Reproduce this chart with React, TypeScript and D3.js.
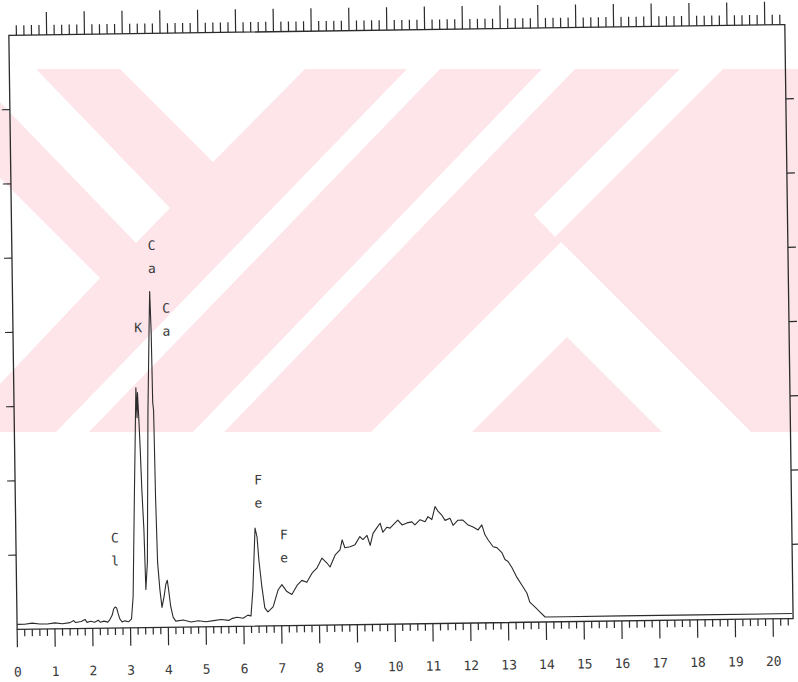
import { useRef, useEffect } from "react";
import * as d3 from "d3";

const WIDTH = 798;
const HEIGHT = 682;

/** EDS spectrum: energy (keV) and counts */
const energyKeV = [
  0.0, 0.2, 0.4, 0.6, 0.8, 1.0, 1.2, 1.4, 1.5, 1.55, 1.7, 1.8, 1.85, 1.95, 2.05,
  2.15, 2.2, 2.3, 2.4, 2.45, 2.52, 2.56, 2.6, 2.64, 2.68, 2.72, 2.78, 2.85, 2.95,
  3.03, 3.08, 3.15, 3.19, 3.23, 3.25, 3.27, 3.3, 3.32, 3.35, 3.39, 3.42, 3.47,
  3.54, 3.6, 3.63, 3.655, 3.67, 3.69, 3.71, 3.74, 3.79, 3.84, 3.9, 3.95, 3.99,
  4.02, 4.07, 4.13, 4.2, 4.4, 4.6, 4.8, 5.0, 5.2, 5.4, 5.6, 5.7, 5.82, 5.98, 6.11,
  6.19, 6.25, 6.33, 6.38, 6.42, 6.49, 6.56, 6.64, 6.78, 6.92, 7.02, 7.15, 7.28,
  7.42, 7.55, 7.68, 7.82, 7.95, 8.09, 8.22, 8.3, 8.44, 8.57, 8.63, 8.7, 8.84,
  8.97, 9.1, 9.18, 9.29, 9.37, 9.45, 9.56, 9.64, 9.71, 9.82, 9.9, 10.03, 10.11,
  10.22, 10.35, 10.48, 10.56, 10.7, 10.83, 10.91, 11.01, 11.1, 11.18, 11.28,
  11.36, 11.49, 11.57, 11.7, 11.83, 11.97, 12.1, 12.23, 12.33, 12.41, 12.49,
  12.62, 12.72, 12.85, 12.93, 13.01, 13.11, 13.24, 13.37, 13.5, 13.57, 13.71,
  13.84, 13.97, 14.5, 16.0, 18.0, 20.5,
];
const counts = [
  0, 0, 1, 0, 0, 1, 0, 1, 3, 1, 2, 4, 1, 2, 1,
  3, 1, 2, 1, 3, 8, 14, 16, 15, 9, 4, 1, 2, 1,
  4, 26, 126, 180, 235, 205, 230, 200, 176, 133, 93, 33, 60,
  210, 293, 331, 290, 220, 212, 126, 60, 33, 15, 26, 38, 42,
  33, 16, 5, 1, 2, 0, 1, 0, 1, 2, 1, 3, 4, 3, 6,
  5, 31, 93, 84, 61, 34, 13, 9, 14, 31, 36, 29, 26,
  35, 40, 38, 47, 52, 62, 57, 53, 65, 70, 80, 72, 73,
  75, 83, 80, 84, 74, 86, 92, 96, 87, 92, 91, 96, 99,
  94, 96, 97, 94, 99, 97, 102, 99, 112, 107, 103,
  98, 100, 93, 98, 98, 93, 91, 88, 93, 83, 78,
  71, 70, 65, 58, 56, 50, 40, 32, 24, 15, 10,
  5, 0, 0, 0, 0, 0,
];

/** peak labels: symbol, energy and height of the first letter */
const labelText = ["Ca", "K", "Ca", "Cl", "Fe", "Fe"];
const labelKeV = [3.7, 3.31, 4.06, 2.62, 6.43, 7.09];
const labelCounts = [377, 295, 314, 85, 141, 86];

/** energy axis labels */
const xTickLabels = [
  "0", "1", "2", "3", "4", "5", "6", "7", "8", "9", "10",
  "11", "12", "13", "14", "15", "16", "17", "18", "19", "20",
];

/** pink watermark of the scanned page: band area and the white cut-outs */
const watermarkBand = [[0, 69], [798, 69], [798, 432], [0, 432]];
const watermarkCuts = [
  [[0, 69], [36, 69], [170, 208], [136, 243], [0, 102]],
  [[0, 178], [100, 278], [0, 384]],
  [[120, 69], [305, 69], [213, 162]],
  [[407, 69], [440, 69], [89, 432], [56, 432]],
  [[542, 69], [575, 69], [224, 432], [193, 432]],
  [[680, 69], [723, 69], [555, 237], [534, 215]],
  [[371, 432], [561, 242], [751, 432], [662, 432], [567, 337], [472, 432]],
];

const INK = "#2b2b2b";
const FONT = "'DejaVu Sans Mono', 'Liberation Mono', monospace";

const App = () => {
  const svgRef = useRef<SVGSVGElement>(null);

  useEffect(() => {
    const svg = d3.select(svgRef.current);
    svg.selectAll("*").remove();

    svg
      .append("rect")
      .attr("width", WIDTH)
      .attr("height", HEIGHT)
      .attr("fill", "#ffffff");

    // 水印
    const wm = svg.append("g");
    wm.append("polygon")
      .attr("points", watermarkBand.join(" "))
      .attr("fill", "#fde5ea");
    wm.selectAll("polygon.cut")
      .data(watermarkCuts)
      .join("polygon")
      .attr("class", "cut")
      .attr("points", (d) => d.join(" "))
      .attr("fill", "#ffffff");

    // the scan is slightly tilted
    const g = svg.append("g").attr("transform", "rotate(-0.8 399 330)");

    const x = d3.scaleLinear().domain([0, 20]).range([13, 769]);
    const y = d3.scaleLinear().domain([0, 600]).range([619, 19]);
    const div = d3.scaleLinear().domain([0, 8]).range([624, 30]);

    const left = x(0);
    const right = x(20.53);
    const top = div(8);
    const bottom = div(0);

    // frame
    g.append("rect")
      .attr("x", left)
      .attr("y", top)
      .attr("width", right - left)
      .attr("height", bottom - top)
      .attr("fill", "none")
      .attr("stroke", INK)
      .attr("stroke-width", 1.3);

    // energy ticks, every 0.2 keV, long ones on whole keV
    const ticks = d3.range(0, 103).map((i) => +(i * 0.2).toFixed(1));
    const isMajor = (v: number) => Math.abs(v - Math.round(v)) < 1e-6;

    g.append("g")
      .selectAll("line")
      .data(ticks)
      .join("line")
      .attr("x1", (d) => x(d))
      .attr("x2", (d) => x(d))
      .attr("y1", bottom)
      .attr("y2", (d) => bottom + (isMajor(d) ? 18 : 7))
      .attr("stroke", INK)
      .attr("stroke-width", 1.2);

    g.append("g")
      .selectAll("line")
      .data(ticks.filter((d) => d > 0))
      .join("line")
      .attr("x1", (d) => x(d))
      .attr("x2", (d) => x(d))
      .attr("y1", top)
      .attr("y2", (d) => top - (isMajor(d) ? 23 : 10))
      .attr("stroke", INK)
      .attr("stroke-width", 1.2);

    // count divisions on both sides
    const divs = d3.range(1, 8);
    g.append("g")
      .selectAll("line")
      .data(divs)
      .join("line")
      .attr("x1", left - 8)
      .attr("x2", left)
      .attr("y1", (d) => div(d))
      .attr("y2", (d) => div(d))
      .attr("stroke", INK)
      .attr("stroke-width", 1.2);
    g.append("g")
      .selectAll("line")
      .data(divs)
      .join("line")
      .attr("x1", right)
      .attr("x2", right + 8)
      .attr("y1", (d) => div(d))
      .attr("y2", (d) => div(d))
      .attr("stroke", INK)
      .attr("stroke-width", 1.2);

    // axis numbers
    g.append("g")
      .selectAll("text")
      .data(xTickLabels)
      .join("text")
      .attr("x", (d) => x(+d))
      .attr("y", 671)
      .attr("text-anchor", "middle")
      .attr("font-family", FONT)
      .attr("font-size", 13)
      .attr("fill", "#3a3a3a")
      .text((d) => d);

    // spectrum
    const points = energyKeV.map((e, i) => [e, counts[i]] as [number, number]);
    const line = d3
      .line<[number, number]>()
      .x((d) => x(d[0]))
      .y((d) => y(d[1]));
    g.append("path")
      .attr("d", line(points))
      .attr("fill", "none")
      .attr("stroke", INK)
      .attr("stroke-width", 1.1)
      .attr("stroke-linejoin", "round");

    // element labels, letters stacked
    labelText.forEach((t, i) => {
      t.split("").forEach((ch, j) => {
        g.append("text")
          .attr("x", x(labelKeV[i]))
          .attr("y", y(labelCounts[i]) + j * 23)
          .attr("text-anchor", "middle")
          .attr("dominant-baseline", "central")
          .attr("font-family", FONT)
          .attr("font-size", 13)
          .attr("fill", "#3a3a3a")
          .text(ch);
      });
    });
  }, []);

  return (
    <svg
      ref={svgRef}
      width={WIDTH}
      height={HEIGHT}
      style={{ position: "absolute", left: 0, top: 0 }}
    />
  );
};

export default App;
